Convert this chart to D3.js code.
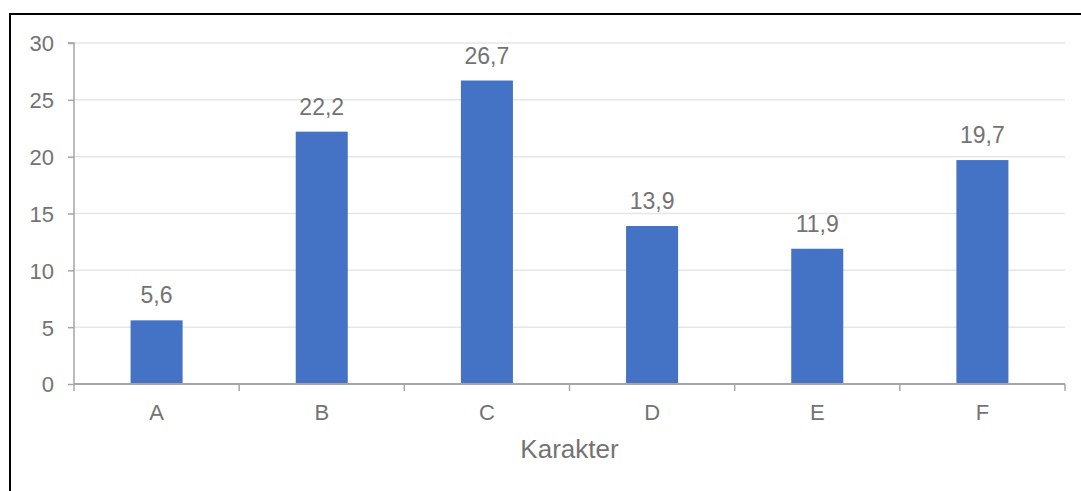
<!DOCTYPE html>
<html><head><meta charset="utf-8">
<script src="https://cdn.jsdelivr.net/npm/d3@7"></script>
<style>html,body{margin:0;padding:0;background:#fff;overflow:hidden}</style>
</head><body>
<svg id="c" width="1081" height="491"></svg>
<script>
const categories = ["A","B","C","D","E","F"];
const values = [5.6, 22.2, 26.7, 13.9, 11.9, 19.7];
const yTicks = [0,5,10,15,20,25,30];
const valueLabels = ["5,6","22,2","26,7","13,9","11,9","19,7"];
const xTitle = "Karakter";

(function(){
const svg = d3.select("#c");
const font = "Liberation Sans, Arial, sans-serif";
const textCol = "#737373";
const pL = 74, pR = 1065, pT = 43, pB = 384;

// outer border
svg.append("rect").attr("x",10).attr("y",14).attr("width",1200).attr("height",600)
  .attr("fill","none").attr("stroke","#000").attr("stroke-width",2);

const x = d3.scaleBand().domain(categories).range([pL,pR]).paddingInner(0.685).paddingOuter(0.3425);
const xb = d3.scaleBand().domain(categories).range([pL,pR]);
const y = d3.scaleLinear().domain([0,30]).range([pB,pT]);

// gridlines
svg.append("g").selectAll("line").data(yTicks.filter(d=>d>0)).join("line")
  .attr("x1",pL).attr("x2",pR).attr("y1",d=>y(d)).attr("y2",d=>y(d))
  .attr("stroke","#e6e6e6").attr("stroke-width",1.5);

// bars
svg.append("g").selectAll("rect").data(values).join("rect")
  .attr("x",(d,i)=>x(categories[i])).attr("width",x.bandwidth())
  .attr("y",d=>y(d)).attr("height",d=>y(0)-y(d)).attr("fill","#4472C4");

// y axis
const yAxis = svg.append("g").attr("transform",`translate(${pL},0)`)
  .call(d3.axisLeft(y).tickValues(yTicks).tickSize(6).tickPadding(14).tickFormat(d3.format("d")));
yAxis.select(".domain").attr("stroke","#a6a6a6").attr("stroke-width",1.5).attr("d",`M-6,${pT}H0V${pB}`);
yAxis.selectAll(".tick line").attr("stroke","#a6a6a6").attr("stroke-width",1.5);
yAxis.selectAll(".tick text").attr("fill",textCol).attr("dy","0.36em").style("font-family",font).style("font-size","22px");

// x axis
const xAxis = svg.append("g").attr("transform",`translate(0,${pB})`);
xAxis.append("line").attr("x1",pL).attr("x2",pR).attr("y1",0).attr("y2",0)
  .attr("stroke","#a6a6a6").attr("stroke-width",2);
const bounds = categories.map(c=>xb(c)).concat([pR]);
xAxis.selectAll("line.t").data(bounds).join("line").attr("class","t")
  .attr("x1",d=>d).attr("x2",d=>d).attr("y1",0).attr("y2",7)
  .attr("stroke","#a6a6a6").attr("stroke-width",1.5);
xAxis.selectAll("text").data(categories).join("text")
  .attr("x",d=>xb(d)+xb.bandwidth()/2).attr("y",36).attr("text-anchor","middle")
  .attr("fill",textCol).style("font-family",font).style("font-size","22px").text(d=>d);

// data labels
svg.append("g").selectAll("text").data(values).join("text")
  .attr("x",(d,i)=>x(categories[i])+x.bandwidth()/2).attr("y",d=>y(d)-17)
  .attr("text-anchor","middle").attr("fill",textCol)
  .style("font-family",font).style("font-size","23px").text((d,i)=>valueLabels[i]);

// x title
svg.append("text").attr("x",(pL+pR)/2).attr("y",458).attr("text-anchor","middle")
  .attr("fill",textCol).style("font-family",font).style("font-size","26px").text(xTitle);
})();
</script>
</body></html>
